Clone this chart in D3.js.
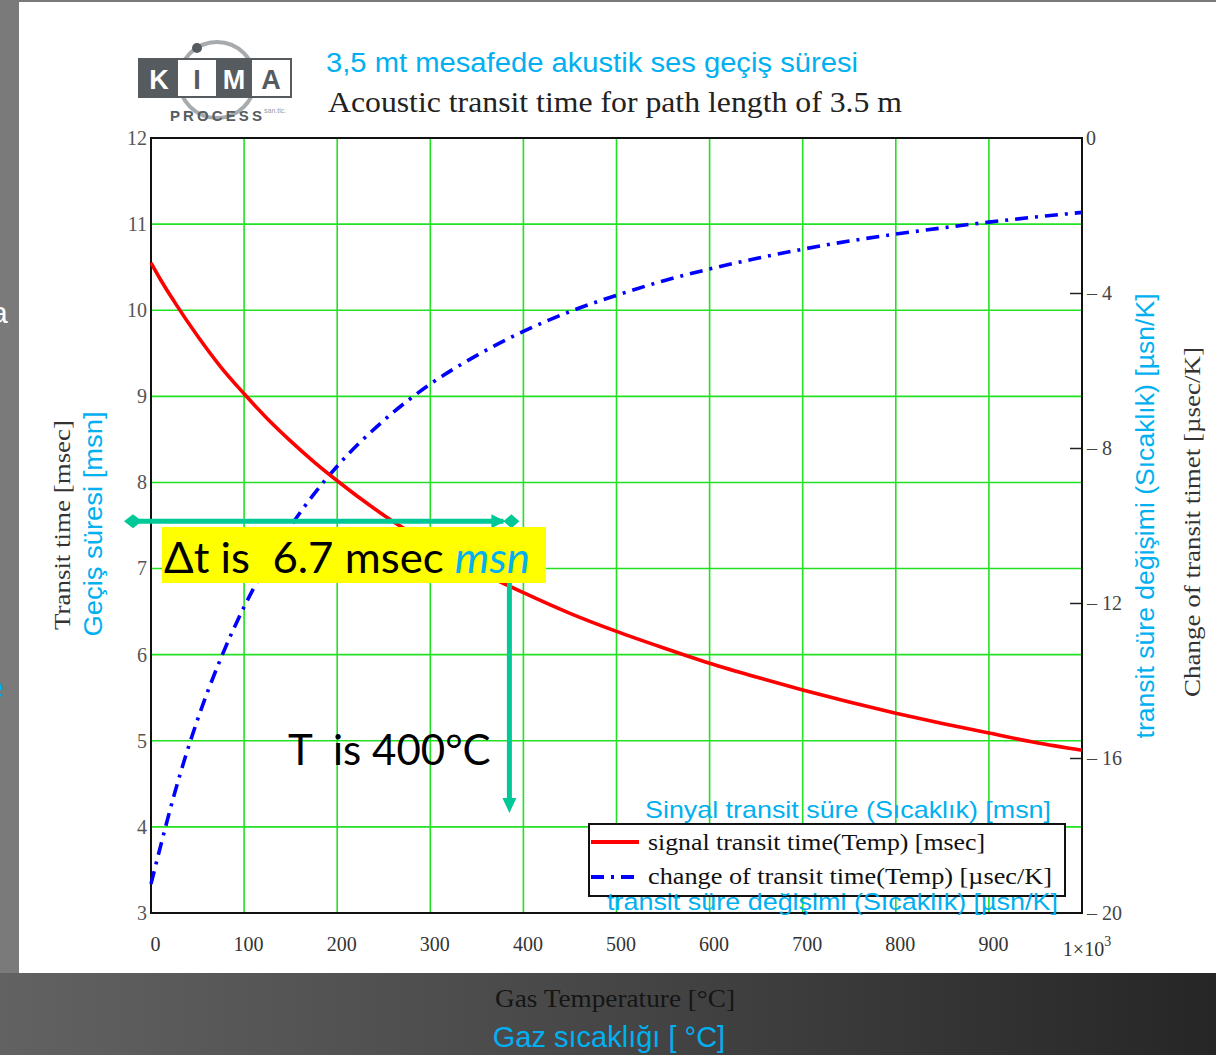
<!DOCTYPE html>
<html>
<head>
<meta charset="utf-8">
<script src="https://cdn.jsdelivr.net/npm/d3@7"></script>
<style>
  body { margin: 0; background: #7a7a7a; }
  svg { display: block; }
  .serif { font-family: "Liberation Serif", "DejaVu Serif", serif; }
  .sans { font-family: "Liberation Sans", Arial, sans-serif; }
  .note { font-family: Lato, "Open Sans", sans-serif; }
</style>
</head>
<body>
<div id="chart"></div>
<script>
// values (gas temperature in °C)
const temps = [0, 10, 25, 50, 75, 100, 125, 150, 175, 200, 250, 300, 350, 400, 450, 500, 550, 600, 650, 700, 750, 800, 850, 900, 950, 1000]
const transitMs = [10.55, 10.36, 10.10, 9.70, 9.34, 9.03, 8.74, 8.48, 8.24, 8.02, 7.62, 7.28, 6.98, 6.72, 6.48, 6.27, 6.08, 5.90, 5.74, 5.59, 5.45, 5.32, 5.20, 5.09, 4.98, 4.89]
const changeUsK = [-19.25, -18.3, -16.94, -15.01, -13.43, -12.10, -10.98, -10.02, -9.19, -8.47, -7.29, -6.35, -5.61, -4.99, -4.48, -4.06, -3.69, -3.38, -3.11, -2.87, -2.66, -2.48, -2.32, -2.17, -2.04, -1.92]

const xTicks = [0, 100, 200, 300, 400, 500, 600, 700, 800, 900, 1000]
const leftTicks = [3, 4, 5, 6, 7, 8, 9, 10, 11, 12]
const rightTicks = [0, -4, -8, -12, -16, -20]

const markedTemp = 400
const markedTime = 7.55

const width = 1216,
      height = 1055

const plot = { left: 151, right: 1082, top: 138, bottom: 913 }

const xScale = d3.scaleLinear().domain([0, 1000]).range([plot.left, plot.right]),
      yLeft = d3.scaleLinear().domain([3, 12]).range([plot.bottom, plot.top]),
      yRight = d3.scaleLinear().domain([-20, 0]).range([plot.bottom, plot.top])

const svg = d3.select('#chart')
              .append('svg')
              .attr('width', width)
              .attr('height', height)

// backdrop: grey slide edge, white picture, dark strip at the bottom
const grad = svg.append('defs').append('linearGradient')
                .attr('id', 'bottomGrad')
grad.append('stop').attr('offset', '0%').attr('stop-color', '#626262')
grad.append('stop').attr('offset', '50%').attr('stop-color', '#464646')
grad.append('stop').attr('offset', '100%').attr('stop-color', '#262626')

svg.append('rect').attr('width', width).attr('height', height).attr('fill', '#7a7a7a')
svg.append('rect').attr('x', 0).attr('y', 973).attr('width', width).attr('height', height - 973)
   .attr('fill', 'url(#bottomGrad)')
svg.append('rect').attr('x', 19).attr('y', 2).attr('width', width - 19).attr('height', 971)
   .attr('fill', '#ffffff')

// cut-off letters of the slide on the left edge
svg.append('text').attr('class', 'sans').attr('x', -9).attr('y', 323)
   .attr('font-size', 30).attr('fill', '#ffffff').text('a')
svg.append('text').attr('class', 'sans').attr('x', -13).attr('y', 698)
   .attr('font-size', 30).attr('fill', '#00b0f0').text('e')

// logo
const logo = svg.append('g')
logo.append('circle').attr('cx', 217).attr('cy', 80).attr('r', 38)
    .attr('fill', 'none').attr('stroke', '#a8abad').attr('stroke-width', 4)
logo.append('rect').attr('x', 138).attr('y', 58).attr('width', 154).attr('height', 40).attr('fill', '#565b60')
logo.append('rect').attr('x', 178).attr('y', 60).attr('width', 38).attr('height', 36).attr('fill', '#ffffff')
logo.append('rect').attr('x', 252).attr('y', 60).attr('width', 38).attr('height', 36).attr('fill', '#ffffff')
logo.append('circle').attr('cx', 197).attr('cy', 48).attr('r', 5).attr('fill', '#565b60')
const letters = [['K', 159, '#ffffff'], ['I', 197, '#565b60'], ['M', 234, '#ffffff'], ['A', 271, '#565b60']]
letters.forEach(function(l) {
  logo.append('text').attr('class', 'sans').attr('x', l[1]).attr('y', 89)
      .attr('text-anchor', 'middle').attr('font-size', 27).attr('font-weight', 'bold')
      .attr('fill', l[2]).text(l[0])
})
logo.append('text').attr('class', 'sans').attr('x', 170).attr('y', 121)
    .attr('font-size', 15).attr('font-weight', 'bold')
    .attr('textLength', 92).attr('lengthAdjust', 'spacing')
    .attr('fill', '#565b60').text('PROCESS')
logo.append('text').attr('class', 'sans').attr('x', 264).attr('y', 113)
    .attr('font-size', 7).attr('fill', '#9a9a9a').text('san.tic.')

// titles
svg.append('text').attr('class', 'sans').attr('x', 326).attr('y', 72)
   .attr('font-size', 27).attr('fill', '#00b0f0')
   .attr('textLength', 532).attr('lengthAdjust', 'spacingAndGlyphs')
   .text('3,5 mt mesafede akustik ses geçiş süresi')
svg.append('text').attr('class', 'serif').attr('x', 328).attr('y', 112)
   .attr('font-size', 29).attr('fill', '#222222')
   .attr('textLength', 574).attr('lengthAdjust', 'spacingAndGlyphs')
   .text('Acoustic transit time for path length of 3.5 m')

// grid
const grid = svg.append('g').attr('stroke', '#22e022').attr('stroke-width', 1.6)
grid.selectAll('.vgrid')
    .data(xTicks.slice(1, -1))
    .enter()
    .append('line')
    .attr('x1', function(d) { return xScale(d) })
    .attr('x2', function(d) { return xScale(d) })
    .attr('y1', plot.top)
    .attr('y2', plot.bottom)
grid.selectAll('.hgrid')
    .data(leftTicks.slice(1, -1))
    .enter()
    .append('line')
    .attr('x1', plot.left)
    .attr('x2', plot.right)
    .attr('y1', function(d) { return yLeft(d) })
    .attr('y2', function(d) { return yLeft(d) })

// axes
const xAxis = d3.axisBottom(xScale).tickValues(xTicks).tickSize(0).tickPadding(24)
                .tickFormat(function(d) { return d === 1000 ? '' : d })
const setXAxis = svg.append('g')
                    .attr('transform', 'translate(4, ' + plot.bottom + ')')
                    .call(xAxis)
setXAxis.select('.domain').remove()
setXAxis.selectAll('text').attr('class', 'serif').attr('font-size', 20).attr('fill', '#333333')
svg.append('text').attr('class', 'serif').attr('x', xScale(1000) + 5).attr('y', 956)
   .attr('text-anchor', 'middle').attr('font-size', 20).attr('fill', '#333333')
   .text('1×10').append('tspan').attr('dy', -10).attr('font-size', 14).text('3')

const leftAxis = d3.axisLeft(yLeft).tickValues(leftTicks).tickSize(0).tickPadding(4)
const setLeftAxis = svg.append('g')
                       .attr('transform', 'translate(' + plot.left + ', 0)')
                       .call(leftAxis)
setLeftAxis.select('.domain').remove()
setLeftAxis.selectAll('text').attr('class', 'serif').attr('font-size', 20).attr('fill', '#555555')

const rightAxis = d3.axisRight(yRight).tickValues(rightTicks).tickSize(-12).tickPadding(16)
                    .tickFormat(function(d) { return d === 0 ? '0' : '– ' + Math.abs(d) })
const setRightAxis = svg.append('g')
                        .attr('transform', 'translate(' + plot.right + ', 0)')
                        .call(rightAxis)
setRightAxis.select('.domain').remove()
setRightAxis.selectAll('line').attr('stroke', '#222222').attr('stroke-width', 1.5)
setRightAxis.selectAll('.tick')
            .filter(function(d) { return d === 0 || d === -20 })
            .select('line').remove()
setRightAxis.selectAll('text').attr('class', 'serif').attr('font-size', 20).attr('fill', '#444444')
            .attr('x', function(d) { return d === 0 ? 4 : 5 })

// plot frame
svg.append('rect').attr('x', plot.left).attr('y', plot.top)
   .attr('width', plot.right - plot.left).attr('height', plot.bottom - plot.top)
   .attr('fill', 'none').attr('stroke', '#111111').attr('stroke-width', 2)

// series
const series = temps.map(function(t, i) { return { t: t, ms: transitMs[i], us: changeUsK[i] } })

const redLine = d3.line()
                  .x(function(d) { return xScale(d.t) })
                  .y(function(d) { return yLeft(d.ms) })
                  .curve(d3.curveMonotoneX)
const blueLine = d3.line()
                   .x(function(d) { return xScale(d.t) })
                   .y(function(d) { return yRight(d.us) })
                   .curve(d3.curveMonotoneX)

svg.append('path').datum(series)
   .attr('d', blueLine)
   .attr('fill', 'none').attr('stroke', '#0000ff').attr('stroke-width', 3.6)
   .attr('stroke-dasharray', '13,7,3,7')
svg.append('path').datum(series)
   .attr('d', redLine)
   .attr('fill', 'none').attr('stroke', '#ff0000').attr('stroke-width', 3.6)

// legend
svg.append('text').attr('class', 'sans').attr('x', 645).attr('y', 818)
   .attr('font-size', 24).attr('fill', '#00b0f0')
   .attr('textLength', 406).attr('lengthAdjust', 'spacingAndGlyphs')
   .text('Sinyal transit süre (Sıcaklık)  [msn]')
const legend = svg.append('g')
legend.append('rect').attr('x', 589).attr('y', 824).attr('width', 476).attr('height', 72)
      .attr('fill', '#ffffff').attr('stroke', '#111111').attr('stroke-width', 2)
legend.append('line').attr('x1', 591).attr('x2', 639).attr('y1', 842).attr('y2', 842)
      .attr('stroke', '#ff0000').attr('stroke-width', 4)
legend.append('line').attr('x1', 591).attr('x2', 639).attr('y1', 877).attr('y2', 877)
      .attr('stroke', '#0000ff').attr('stroke-width', 4).attr('stroke-dasharray', '13,7,3,7')
legend.append('text').attr('class', 'serif').attr('x', 648).attr('y', 850)
      .attr('font-size', 24).attr('fill', '#111111')
      .attr('textLength', 337).attr('lengthAdjust', 'spacingAndGlyphs')
      .text('signal transit time(Temp) [msec]')
legend.append('text').attr('class', 'serif').attr('x', 648).attr('y', 884)
      .attr('font-size', 24).attr('fill', '#111111')
      .attr('textLength', 404).attr('lengthAdjust', 'spacingAndGlyphs')
      .text('change of transit time(Temp) [µsec/K]')
svg.append('text').attr('class', 'sans').attr('x', 607).attr('y', 910)
   .attr('font-size', 24).attr('fill', '#00b0f0')
   .attr('textLength', 451).attr('lengthAdjust', 'spacingAndGlyphs')
   .text('transit süre değişimi (Sıcaklık)  [µsn/K]')

// axis titles
svg.append('text').attr('class', 'serif')
   .attr('transform', 'translate(70, 525) rotate(-90)')
   .attr('text-anchor', 'middle').attr('font-size', 24).attr('fill', '#333333')
   .attr('textLength', 210).attr('lengthAdjust', 'spacingAndGlyphs')
   .text('Transit time [msec]')
svg.append('text').attr('class', 'sans')
   .attr('transform', 'translate(102, 524) rotate(-90)')
   .attr('text-anchor', 'middle').attr('font-size', 26).attr('fill', '#00b0f0')
   .attr('textLength', 225).attr('lengthAdjust', 'spacingAndGlyphs')
   .text('Geçiş süresi  [msn]')
svg.append('text').attr('class', 'sans')
   .attr('transform', 'translate(1154, 516) rotate(-90)')
   .attr('text-anchor', 'middle').attr('font-size', 26).attr('fill', '#00b0f0')
   .attr('textLength', 445).attr('lengthAdjust', 'spacingAndGlyphs')
   .text('transit süre değişimi (Sıcaklık)  [µsn/K]')
svg.append('text').attr('class', 'serif')
   .attr('transform', 'translate(1200, 522) rotate(-90)')
   .attr('text-anchor', 'middle').attr('font-size', 24).attr('fill', '#333333')
   .attr('textLength', 350).attr('lengthAdjust', 'spacingAndGlyphs')
   .text('Change of transit timet [µsec/K]')
svg.append('text').attr('class', 'serif').attr('x', 615).attr('y', 1007)
   .attr('text-anchor', 'middle').attr('font-size', 25).attr('fill', '#151515')
   .attr('textLength', 240).attr('lengthAdjust', 'spacingAndGlyphs')
   .text('Gas Temperature [°C]')
svg.append('text').attr('class', 'sans').attr('x', 609).attr('y', 1047)
   .attr('text-anchor', 'middle').attr('font-size', 29).attr('fill', '#00b0f0')
   .text('Gaz sıcaklığı [ °C]')

// annotations
const teal = '#00c896'
const ay = yLeft(markedTime),
      ax = xScale(markedTemp) - 16
const ann = svg.append('g')
ann.append('line').attr('x1', 133).attr('x2', ax - 4).attr('y1', ay).attr('y2', ay)
   .attr('stroke', teal).attr('stroke-width', 5)
ann.append('path').attr('d', 'M124,' + ay + 'l9,-7l9,7l-9,7z').attr('fill', teal)
ann.append('path').attr('d', 'M' + (ax - 16) + ',' + (ay - 7) + 'l14,7l-14,7z').attr('fill', teal)
ann.append('path').attr('d', 'M' + (ax - 4) + ',' + ay + 'l8,-7l8,7l-8,7z').attr('fill', teal)

ann.append('rect').attr('x', 162).attr('y', 527).attr('width', 384).attr('height', 56).attr('fill', '#ffff00')
const dt = ann.append('text').attr('class', 'note').attr('x', 164).attr('y', 573)
              .attr('font-size', 42).attr('fill', '#000000')
              .attr('textLength', 366).attr('lengthAdjust', 'spacingAndGlyphs')
dt.append('tspan').attr('xml:space', 'preserve').text('Δt is  6.7 msec ')
dt.append('tspan').attr('font-style', 'italic').attr('fill', '#00b0f0').text('msn')

ann.append('line').attr('x1', ax + 2).attr('x2', ax + 2).attr('y1', 583).attr('y2', 800)
   .attr('stroke', teal).attr('stroke-width', 5)
ann.append('path').attr('d', 'M' + (ax - 5) + ',798l7,15l7,-15z').attr('fill', teal)

ann.append('text').attr('class', 'note').attr('x', 288).attr('y', 765)
   .attr('font-size', 42).attr('fill', '#000000')
   .attr('xml:space', 'preserve')
   .text('T  is 400°C')
</script>
</body>
</html>
